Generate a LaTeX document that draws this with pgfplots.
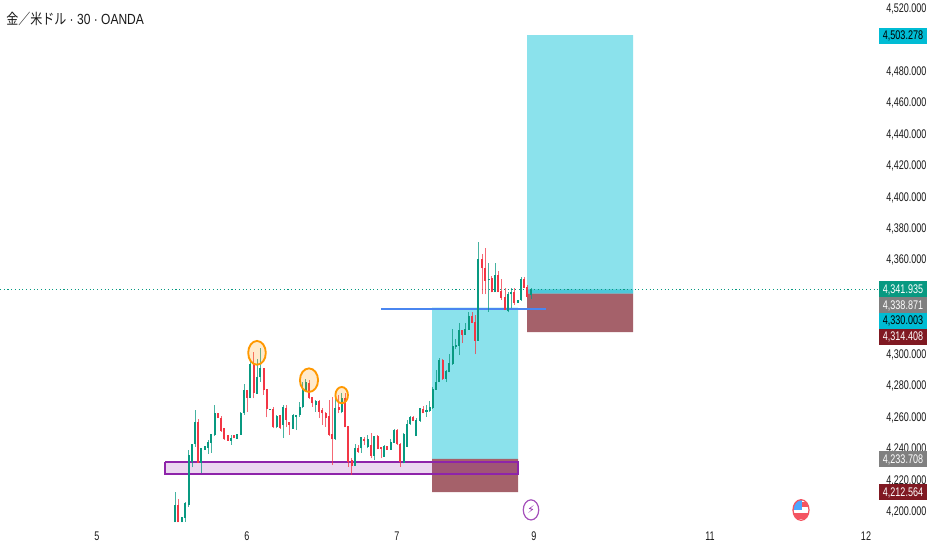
\documentclass[border=0pt]{standalone}
\usepackage{fontspec}
\usepackage{pgfplots}
\usepackage{pgfplotstable}
\pgfplotsset{compat=1.18}
\setmainfont{Liberation Sans}
\newfontfamily\cjk{Noto Sans CJK JP}[FakeStretch=0.82]
\newfontfamily\lat{Liberation Sans}[FakeStretch=0.82]
\newfontfamily\num{Liberation Sans}[FakeStretch=0.72]
\newfontfamily\sym{DejaVu Sans}
\definecolor{cup}{HTML}{089981}
\definecolor{cdn}{HTML}{F23645}
\definecolor{boxt}{HTML}{8BE2EC}
\definecolor{boxr}{HTML}{A5616A}
\definecolor{boxd}{HTML}{4CC9D9}
\definecolor{purp}{HTML}{8E24AA}
\definecolor{orng}{HTML}{FF9800}
\definecolor{lcy}{HTML}{00BCD4}
\definecolor{lrd}{HTML}{801922}
\definecolor{lgr}{HTML}{808080}
\definecolor{bluel}{HTML}{4A86F0}
\pgfplotstableread{
x h t b l
175.3 4212.5 4204.4 4193.4 4193.4
182 4197 4196.6 4193.4 4193.4
185 4206.6 4205.5 4196 4193.8
188.7 4239.4 4236.3 4204.4 4203.4
192 4243.2 4243.2 4232 4228.4
195 4264.9 4257 4243.2 4241.6
201.3 4240.7 4240.7 4231.4 4224.6
204.7 4242 4242 4239.4 4239.4
208 4245.8 4244.7 4240.9 4236.7
211.3 4249.6 4249.6 4244.1 4237.7
214.7 4268 4262.8 4249 4248.3
231 4248.8 4246.8 4245.4 4242.6
237.3 4249.6 4249.6 4246.6 4246.6
240.7 4263.8 4262.8 4249 4249
244 4281.4 4277.6 4262.8 4261.7
250.3 4295.6 4294.1 4272.7 4272.3
257 4297.1 4286.1 4275 4275
260.3 4304.1 4291.4 4285.6 4282.9
270 4265.3 4265.3 4264.7 4264.7
276.7 4261.7 4261 4253.8 4253.2
283.3 4268 4266.6 4255.3 4246.9
293 4262.1 4261.5 4253 4253
296 4261.7 4261.7 4260.6 4252.1
299.7 4270.2 4267 4261.5 4260.6
302.7 4282.9 4278 4266.6 4265.9
305.7 4284.4 4282.5 4276.5 4276.5
315.7 4271.2 4270.6 4268 4263.8
335.3 4275.5 4266.4 4246.2 4245.8
341.7 4275.5 4272.7 4263.8 4262.75
355 4243.2 4240.9 4229.3 4229.3
361 4247.5 4247.5 4240.5 4237.7
367.7 4249 4246.2 4241.1 4240.5
374.3 4248.5 4248.5 4235.6 4233.1
384 4242.6 4242 4235.2 4235.2
390.7 4246.2 4244.7 4239.4 4239.4
394 4252.6 4252.2 4244.1 4243.7
403.7 4250 4249.6 4230.9 4230.9
407 4258.5 4256 4241.5 4241.1
410.3 4261 4260.6 4256 4255.5
416 4259.6 4258.5 4248.3 4248.3
420 4265.9 4265.9 4258 4257.5
426.5 4268 4264.9 4263.8 4260.6
429.7 4270.6 4266.6 4264.2 4263.8
432.7 4279.7 4278.2 4265.9 4265.5
436 4290.3 4282.7 4277.6 4277.6
439 4298.2 4296.7 4282.5 4282.5
446 4290.3 4289.9 4284.6 4282.5
449.3 4300.3 4294.5 4288.8 4288.8
452.7 4316.4 4305.6 4293.9 4293.5
455.7 4310 4306.2 4305.2 4303.7
459 4320 4315.8 4305.6 4299.8
465.3 4320 4316.4 4312.6 4312.6
468.7 4327 4324.6 4315.8 4315.8
478.3 4371.5 4360.9 4308.8 4308.8
488.7 4358.1 4348.2 4347.5 4327.4
495 4358.1 4350.7 4339.7 4339.7
508 4340.1 4338.4 4327.8 4327
511 4342.7 4339.7 4338.4 4329.5
517.7 4334.8 4334.8 4333.1 4332.7
521.3 4349.7 4348.2 4334.8 4334.4
531 4342.7 4341.6 4338 4335.5
}\upbars
\pgfplotstableread{
x h t b l
178.3 4208.3 4204.4 4193.4 4193.4
198.3 4258.9 4257 4231.4 4231
217.7 4263.2 4262.8 4259.6 4259.6
221 4261 4259.6 4251.7 4251.1
224.3 4253.6 4253.2 4246.2 4245.8
227.7 4248.8 4248.8 4245.4 4245.4
234 4248.8 4248.8 4246.8 4246.8
247.3 4277.6 4277.6 4272.7 4263.8
253.7 4302 4294.1 4275.5 4272.3
263.7 4291.4 4291.4 4277.6 4274.4
266.7 4278 4278 4265.3 4260.2
273.3 4266.6 4265.3 4253.8 4253.2
280 4261.7 4261.7 4253.2 4252.6
286 4268 4265.9 4258.5 4253.8
289.3 4257.5 4257.5 4255.3 4249.2
309 4284 4281.8 4272.3 4271.7
312.3 4272.9 4272.9 4269.1 4267
319 4271.2 4270.6 4263.8 4259.6
322.3 4265.9 4264.9 4262.75 4255.3
325.7 4263.8 4262.75 4260 4254.3
329 4271.2 4261 4249 4248.3
332 4273.4 4249.6 4246.2 4229.9
338.7 4274.4 4267 4264.9 4262.75
345 4275.5 4272.7 4253.8 4253.8
348.3 4254.7 4254.7 4232 4228.8
351.7 4234.1 4233 4229.3 4223.5
358 4242.6 4240.9 4238.4 4237.7
364.3 4247.5 4246.2 4245.4 4242.6
371 4250.5 4242.6 4235.6 4234.1
377.7 4249 4248.5 4240 4239.9
381 4241.5 4241.1 4239.9 4234.1
387.3 4242 4242 4239.4 4239.4
397 4252.6 4252.2 4243 4242.6
400 4243.7 4243 4232 4228.8
413.3 4261 4260.6 4258 4258
423.3 4267.4 4265.3 4262.75 4262.75
442.7 4297.3 4296.7 4284.4 4284
462 4315.8 4315.8 4312.6 4307.3
472 4327 4324.6 4320.4 4320
475.3 4325.3 4320.6 4308.8 4300.3
482 4363.9 4360.9 4355 4338.4
485.3 4367.7 4355 4346.9 4338.4
491.7 4350.3 4348.6 4339.7 4339.7
498.3 4353.3 4350.7 4339.7 4339.7
501.3 4348.2 4340.8 4336.3 4334.8
505 4342.7 4337 4328.3 4328.3
514.3 4342.7 4339.7 4333.1 4331.6
524.3 4349.7 4348.2 4342.7 4342.3
527.3 4344.4 4343.3 4337 4335.9
}\dnbars
\newcommand{\candles}[2]{%
 \addplot[draw=none, no markers, forget plot, error bars/.cd, y dir=plus, y explicit, error mark=none,
   error bar style={draw=#2, line width=0.75pt, opacity=0.75}]
   table[x=x, y=l, y error plus expr=\thisrow{h}-\thisrow{l}] {#1};
 \addplot[draw=none, no markers, forget plot, error bars/.cd, y dir=plus, y explicit, error mark=none,
   error bar style={draw=#2, line width=1.75pt}]
   table[x=x, y=b, y error plus expr=\thisrow{t}-\thisrow{b}] {#1};
}
\newcommand{\pricelabel}[4]{%
 \fill[#3] (879,{550-#1-8}) rectangle (927,{550-#1+8});
 \node[text=#4, font=\num\fontsize{9.4pt}{10pt}\selectfont, inner sep=0pt] at (903,{550-#1}) {#2};
}
\begin{document}
\begin{tikzpicture}[x=0.75pt,y=0.75pt]
\path[use as bounding box] (0,0) rectangle (932,550);
\begin{axis}[
  at={(0,0)}, anchor=south west, scale only axis,
  width=660pt, height=412.5pt,
  xmin=0, xmax=880, ymin=4175.8, ymax=4525.6,
  clip=false,
  axis line style={draw=none},
  major tick length=0pt,
  xtick={97,247,397,534,710,866},
  xticklabels={5,6,7,9,11,12},
  xticklabel style={font=\num\fontsize{9.4pt}{10pt}\selectfont, yshift=17.5pt, text=black!90},
  ytick={4200,4220,4240,4260,4280,4300,4360,4380,4400,4420,4440,4460,4480,4520},
  yticklabel pos=right,
  yticklabel style={font=\num\fontsize{9.4pt}{10pt}\selectfont, anchor=west, inner sep=0pt, xshift=4.5pt, text=black!90,
    /pgf/number format/assume math mode=true,
    /pgf/number format/fixed, /pgf/number format/fixed zerofill,
    /pgf/number format/precision=3, /pgf/number format/1000 sep={,}},
  scaled y ticks=false,
]
% risk/reward boxes
\addplot[fill=boxt, draw=none, forget plot] coordinates {(432,4330.003)(518,4330.003)(518,4233.708)(432,4233.708)(432,4330.003)};
\addplot[fill=boxr, draw=none, forget plot] coordinates {(432,4233.708)(518,4233.708)(518,4212.564)(432,4212.564)(432,4233.708)};
\addplot[fill=boxt, draw=none, forget plot] coordinates {(527,4503.278)(633,4503.278)(633,4338.871)(527,4338.871)(527,4503.278)};
\addplot[fill=boxd, draw=none, forget plot] coordinates {(527,4341.5)(633,4341.5)(633,4338.871)(527,4338.871)(527,4341.5)};
\addplot[fill=boxr, draw=none, forget plot] coordinates {(527,4338.871)(633,4338.871)(633,4314.408)(527,4314.408)(527,4338.871)};
% support zone
\addplot[draw=purp, line width=1.5pt, fill=purp, fill opacity=0.18, forget plot] coordinates {(165,4231.8)(518,4231.8)(518,4224.2)(165,4224.2)(165,4231.8)};
% last-price and neckline
\addplot[draw=cup, line width=0.8pt, dotted, no markers, forget plot] coordinates {(0,4341.5)(880,4341.5)};
\addplot[draw=bluel, line width=1.2pt, no markers, forget plot] coordinates {(381,4329.2)(546,4329.2)};
% candles
\candles{\upbars}{cup}
\candles{\dnbars}{cdn}
% circles
\addplot[only marks, mark=*, mark size=6.6pt, forget plot, mark options={draw=orng, line width=1.4pt, fill=orng, fill opacity=0.2, yscale=1.35}]
  coordinates {(257,4301.2)};
\addplot[only marks, mark=*, mark size=6.8pt, forget plot, mark options={draw=orng, line width=1.4pt, fill=orng, fill opacity=0.2, yscale=1.3}]
  coordinates {(309,4283.8)};
\addplot[only marks, mark=*, mark size=4.7pt, forget plot, mark options={draw=orng, line width=1.4pt, fill=orng, fill opacity=0.2, yscale=1.3}]
  coordinates {(341.7,4274.3)};
% event icon ring
\addplot[only marks, mark=*, mark size=5.8pt, forget plot, mark options={draw=purp!80, line width=0.9pt, fill=white, yscale=1.3}]
  coordinates {(531,4201.3)};
\end{axis}
\node[text=purp, font=\sym\fontsize{8pt}{9pt}\selectfont, inner sep=0pt] at (531,40) {⚡};
% flag icon
\begin{scope}
\clip (801,40) ellipse [x radius=8, y radius=10.3];
\fill[white] (790,28) rectangle (812,52);
\fill[cdn!85] (790,43) rectangle (812,47.5);
\fill[cdn!85] (790,31) rectangle (812,36.5);
\fill[blue!50!cyan!70] (790,40) rectangle (801.5,52);
\end{scope}
\draw[cdn!85, line width=0.95pt] (801,40) ellipse [x radius=8, y radius=10.3];
% title
\node[anchor=west, inner sep=0pt, text=black!90] at (6,531) {\cjk\fontsize{11pt}{12pt}\selectfont 金／米ドル\lat\ · 30 · OANDA};
% price labels
\pricelabel{36}{4,503.278}{lcy}{black}
\pricelabel{289.5}{4,341.935}{cup}{white}
\pricelabel{305.5}{4,338.871}{lgr}{white}
\pricelabel{321}{4,330.003}{lcy}{black}
\pricelabel{337}{4,314.408}{lrd}{white}
\pricelabel{459.5}{4,233.708}{lgr}{white}
\pricelabel{492.5}{4,212.564}{lrd}{white}
\end{tikzpicture}
\end{document}
